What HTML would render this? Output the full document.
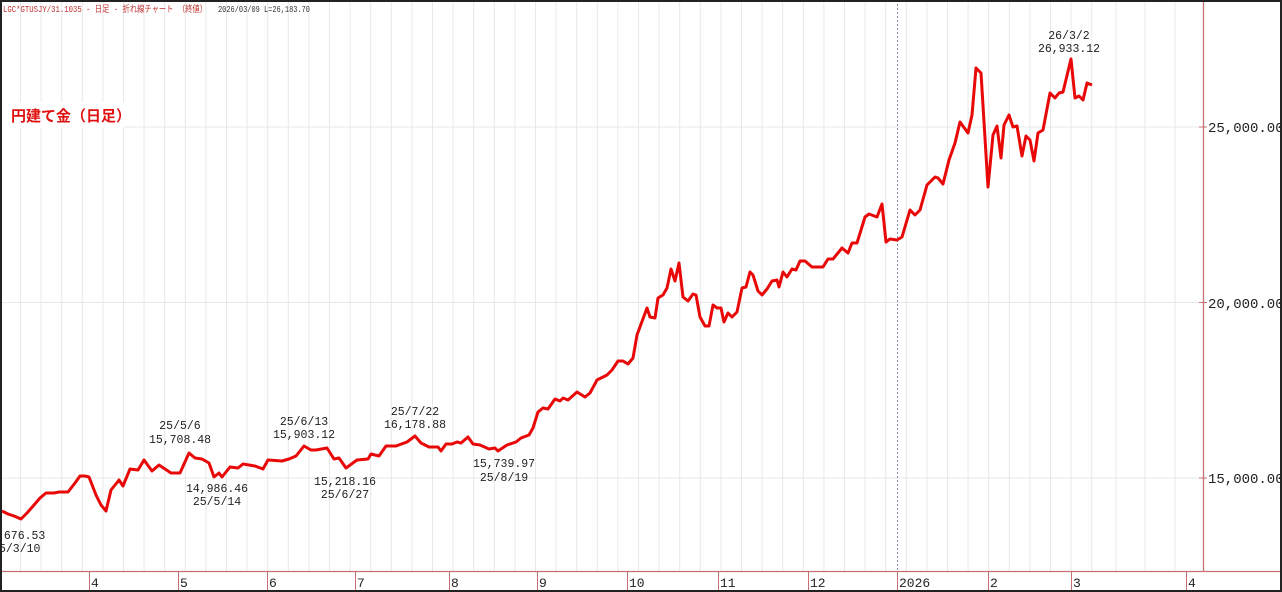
<!DOCTYPE html>
<html><head><meta charset="utf-8"><style>
html,body{margin:0;padding:0;background:#fff;}
svg{display:block;}
text{font-family:"Liberation Mono","Noto Sans CJK JP",monospace;}
</style></head><body>
<svg width="1282" height="592" viewBox="0 0 1282 592" xmlns="http://www.w3.org/2000/svg">
<rect x="0" y="0" width="1282" height="592" fill="#fff"/>
<g stroke="#e8e8e8" stroke-width="1">
<line x1="20.5" y1="0" x2="20.5" y2="571"/><line x1="41.1" y1="0" x2="41.1" y2="571"/><line x1="61.7" y1="0" x2="61.7" y2="571"/><line x1="82.3" y1="0" x2="82.3" y2="571"/><line x1="102.9" y1="0" x2="102.9" y2="571"/><line x1="123.5" y1="0" x2="123.5" y2="571"/><line x1="144.1" y1="0" x2="144.1" y2="571"/><line x1="164.7" y1="0" x2="164.7" y2="571"/><line x1="185.3" y1="0" x2="185.3" y2="571"/><line x1="205.9" y1="0" x2="205.9" y2="571"/><line x1="226.5" y1="0" x2="226.5" y2="571"/><line x1="247.1" y1="0" x2="247.1" y2="571"/><line x1="267.7" y1="0" x2="267.7" y2="571"/><line x1="288.3" y1="0" x2="288.3" y2="571"/><line x1="308.9" y1="0" x2="308.9" y2="571"/><line x1="329.5" y1="0" x2="329.5" y2="571"/><line x1="350.1" y1="0" x2="350.1" y2="571"/><line x1="370.7" y1="0" x2="370.7" y2="571"/><line x1="391.3" y1="0" x2="391.3" y2="571"/><line x1="411.9" y1="0" x2="411.9" y2="571"/><line x1="432.5" y1="0" x2="432.5" y2="571"/><line x1="453.1" y1="0" x2="453.1" y2="571"/><line x1="473.7" y1="0" x2="473.7" y2="571"/><line x1="494.3" y1="0" x2="494.3" y2="571"/><line x1="514.9" y1="0" x2="514.9" y2="571"/><line x1="535.5" y1="0" x2="535.5" y2="571"/><line x1="556.1" y1="0" x2="556.1" y2="571"/><line x1="576.7" y1="0" x2="576.7" y2="571"/><line x1="597.3" y1="0" x2="597.3" y2="571"/><line x1="617.9" y1="0" x2="617.9" y2="571"/><line x1="638.5" y1="0" x2="638.5" y2="571"/><line x1="659.1" y1="0" x2="659.1" y2="571"/><line x1="679.7" y1="0" x2="679.7" y2="571"/><line x1="700.3" y1="0" x2="700.3" y2="571"/><line x1="720.9" y1="0" x2="720.9" y2="571"/><line x1="741.5" y1="0" x2="741.5" y2="571"/><line x1="762.1" y1="0" x2="762.1" y2="571"/><line x1="782.7" y1="0" x2="782.7" y2="571"/><line x1="803.3" y1="0" x2="803.3" y2="571"/><line x1="823.9" y1="0" x2="823.9" y2="571"/><line x1="844.5" y1="0" x2="844.5" y2="571"/><line x1="865.1" y1="0" x2="865.1" y2="571"/><line x1="885.7" y1="0" x2="885.7" y2="571"/><line x1="906.3" y1="0" x2="906.3" y2="571"/><line x1="926.9" y1="0" x2="926.9" y2="571"/><line x1="947.5" y1="0" x2="947.5" y2="571"/><line x1="968.1" y1="0" x2="968.1" y2="571"/><line x1="988.7" y1="0" x2="988.7" y2="571"/><line x1="1009.3" y1="0" x2="1009.3" y2="571"/><line x1="1029.9" y1="0" x2="1029.9" y2="571"/><line x1="1050.5" y1="0" x2="1050.5" y2="571"/><line x1="1071.1" y1="0" x2="1071.1" y2="571"/><line x1="1091.7" y1="0" x2="1091.7" y2="571"/><line x1="1116" y1="0" x2="1116" y2="571"/><line x1="1145" y1="0" x2="1145" y2="571"/><line x1="1175" y1="0" x2="1175" y2="571"/>
<line x1="0" y1="127" x2="1203" y2="127"/><line x1="0" y1="302.5" x2="1203" y2="302.5"/><line x1="0" y1="478" x2="1203" y2="478"/>
</g>
<line x1="897.5" y1="0" x2="897.5" y2="571" stroke="#8a8aa8" stroke-width="1" stroke-dasharray="2,2"/>
<line x1="1203.5" y1="0" x2="1203.5" y2="571" stroke="#c87070" stroke-width="1.3"/>
<line x1="0" y1="571.5" x2="1282" y2="571.5" stroke="#c87070" stroke-width="1.3"/>
<g stroke="#c87070" stroke-width="1">
<line x1="1199" y1="127" x2="1207" y2="127"/><line x1="1199" y1="302.5" x2="1207" y2="302.5"/><line x1="1199" y1="478" x2="1207" y2="478"/>
<line x1="89.5" y1="571" x2="89.5" y2="590"/><line x1="178.5" y1="571" x2="178.5" y2="590"/><line x1="267.5" y1="571" x2="267.5" y2="590"/><line x1="355.5" y1="571" x2="355.5" y2="590"/><line x1="449.5" y1="571" x2="449.5" y2="590"/><line x1="537.5" y1="571" x2="537.5" y2="590"/><line x1="627.5" y1="571" x2="627.5" y2="590"/><line x1="718.5" y1="571" x2="718.5" y2="590"/><line x1="808.5" y1="571" x2="808.5" y2="590"/><line x1="897.5" y1="571" x2="897.5" y2="590"/><line x1="988.5" y1="571" x2="988.5" y2="590"/><line x1="1071.5" y1="571" x2="1071.5" y2="590"/><line x1="1186.5" y1="571" x2="1186.5" y2="590"/>
</g>
<g font-size="13" fill="#222">
<text x="91" y="587">4</text><text x="180" y="587">5</text><text x="269" y="587">6</text><text x="357" y="587">7</text><text x="451" y="587">8</text><text x="539" y="587">9</text><text x="629" y="587">10</text><text x="720" y="587">11</text><text x="810" y="587">12</text><text x="899" y="587">2026</text><text x="990" y="587">2</text><text x="1073" y="587">3</text><text x="1188" y="587">4</text>
</g>
<g font-size="14" fill="#222">
<text x="1208" y="132">25,000.00</text><text x="1208" y="308">20,000.00</text><text x="1208" y="483">15,000.00</text>
</g>
<text x="3" y="12" font-size="9" fill="#c03030" textLength="204" lengthAdjust="spacingAndGlyphs">LGC*GTUSJY/31.1035 - 日足 - 折れ線チャート （終値）</text>
<text x="218" y="12" font-size="9" fill="#333" textLength="92" lengthAdjust="spacingAndGlyphs">2026/03/09 L=26,183.70</text>
<rect x="0" y="102" width="124" height="26" fill="#fff"/>
<text x="11" y="121" font-size="15" font-weight="bold" fill="#e01010" font-family="'Noto Sans CJK JP',sans-serif">円建て金（日足）</text>
<polyline fill="none" stroke="#e80808" stroke-width="3" stroke-linejoin="round" points="2,511 8,514 14,516 21,519 27,513 34,505 40,498 46,493 54,493 59,492 68,492 75,483 80,476 85,476 89,477 96,495 101,505 106,511 111,490 119,480 123,486 130,469 138,470 144,460 152,471 159,465 171,473 180,473 189,453 195,458 202,459 209,463 214,477 219,473 222,477 230,467 238,468 243,464 255,466 263,469 268,460 282,461 289,459 296,456 304,446 311,450 316,450 327,448 334,459 339,458 346,468 357,460 368,459 371,454 379,456 386,446 396,446 407,442 415,436 421,443 429,447 438,447 441,451 446,444 452,444 457,442 461,443 468,437 473,444 480,445 489,449 495,448 498,451 507,445 516,442 521,438 529,435 533,428 538,412 543,408 548,409 555,399 560,401 563,398 568,400 577,392 585,397 590,393 597,380 607,375 612,370 618,361 623,361 628,364 633,358 637,335 647,308 650,317 655,318 658,298 663,295 667,288 671,269 675,281 679,263 683,297 688,301 693,294 696,295 700,317 705,326 709,326 713,305 717,308 721,308 724,322 728,313 732,317 737,312 742,288 746,287 750,272 753,275 758,291 762,295 767,289 772,281 777,280 779,287 783,272 787,277 792,269 796,270 800,261 805,261 812,267 823,267 828,259 833,259 842,248 848,253 852,243 857,243 865,217 869,214 877,217 882,204 886,242 890,239 897,240 902,237 910,210 915,215 920,210 927,185 935,177 938,178 943,184 949,160 955,143 960,122 968,133 972,115 976,68 981,73 988,187 993,135 997,126 1001,158 1004,125 1009,115 1013,127 1017,126 1022,156 1026,136 1030,140 1034,161 1038,133 1043,130 1050,93 1055,98 1059,93 1063,92 1071,59 1075,98 1079,96 1083,100 1087,83 1092,85"/>
<g font-size="11.5" fill="#222" text-anchor="middle">
<text x="180" y="429">25/5/6</text><text x="180" y="443">15,708.48</text>
<text x="217" y="492">14,986.46</text><text x="217" y="505">25/5/14</text>
<text x="304" y="425">25/6/13</text><text x="304" y="438">15,903.12</text>
<text x="345" y="485">15,218.16</text><text x="345" y="498">25/6/27</text>
<text x="415" y="415">25/7/22</text><text x="415" y="428">16,178.88</text>
<text x="504" y="467">15,739.97</text><text x="504" y="481">25/8/19</text>
<text x="1069" y="39">26/3/2</text><text x="1069" y="52">26,933.12</text>
</g>
<g font-size="11.5" fill="#222">
<text x="-3" y="539">.676.53</text><text x="-1" y="552">5/3/10</text>
</g>
<rect x="1" y="1" width="1280" height="590" fill="none" stroke="#222" stroke-width="2"/>
</svg>
</body></html>
